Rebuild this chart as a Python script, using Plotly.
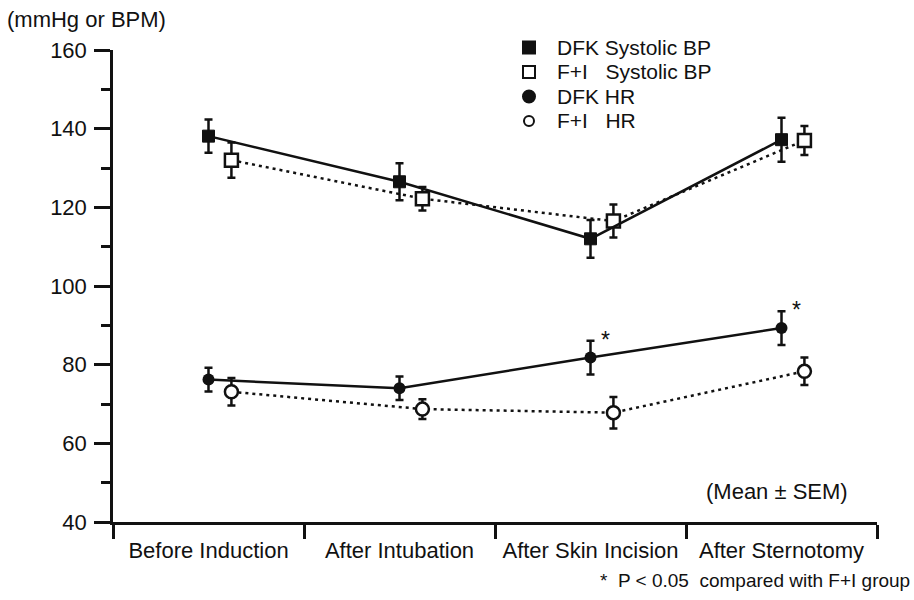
import plotly.graph_objects as go

# ---- data ----
categories = ["Before Induction", "After Intubation", "After Skin Incision", "After Sternotomy"]
dfk_sbp = [138.1, 126.5, 112.0, 137.2]
dfk_sbp_sem = [4.2, 4.7, 4.8, 5.6]
fi_sbp = [132.0, 122.2, 116.5, 137.0]
fi_sbp_sem = [4.5, 3.0, 4.2, 3.7]
dfk_hr = [76.2, 74.0, 81.8, 89.3]
dfk_hr_sem = [3.0, 3.0, 4.3, 4.3]
fi_hr = [73.1, 68.7, 67.8, 78.3]
fi_hr_sem = [3.5, 2.5, 4.0, 3.5]
sig_hr = ["", "", "*", "*"]
y_ticks = [40, 60, 80, 100, 120, 140, 160]
legend_names = ["DFK Systolic BP", "F+I\u00a0\u00a0\u00a0Systolic BP", "DFK HR", "F+I\u00a0\u00a0\u00a0HR"]

FONT = "Liberation Sans, Arial, Helvetica, sans-serif"
INK = "#111111"
OFFSET = 0.12
FS = 22

x_dfk = list(range(len(categories)))
x_fi = [i + OFFSET for i in x_dfk]

fig = go.Figure()

def err(sem):
    return dict(type="data", array=sem, visible=True, color=INK, thickness=2.5, width=4)

# BP lines
fig.add_trace(go.Scatter(x=x_fi, y=fi_sbp, mode="lines+markers", showlegend=False,
                         line=dict(color=INK, width=2.5, dash="3px,4px"),
                         marker=dict(symbol="square", size=13, color="white", line=dict(color=INK, width=2.5)),
                         error_y=err(fi_sbp_sem)))
fig.add_trace(go.Scatter(x=x_dfk, y=dfk_sbp, mode="lines+markers", showlegend=False,
                         line=dict(color=INK, width=2.5),
                         marker=dict(symbol="square", size=12, color=INK, line=dict(color=INK, width=1)),
                         error_y=err(dfk_sbp_sem)))
# HR lines
fig.add_trace(go.Scatter(x=x_fi, y=fi_hr, mode="lines+markers", showlegend=False,
                         line=dict(color=INK, width=2.5, dash="3px,4px"),
                         marker=dict(symbol="circle", size=13, color="white", line=dict(color=INK, width=2.5)),
                         error_y=err(fi_hr_sem)))
fig.add_trace(go.Scatter(x=x_dfk, y=dfk_hr, mode="lines+markers", showlegend=False,
                         line=dict(color=INK, width=2.5),
                         marker=dict(symbol="circle", size=12, color=INK),
                         error_y=err(dfk_hr_sem)))

# significance stars
for i, s in enumerate(sig_hr):
    if s:
        fig.add_annotation(x=x_dfk[i], y=dfk_hr[i] + dfk_hr_sem[i], text=s, showarrow=False,
                           xshift=15, yshift=1, font=dict(family=FONT, size=23, color=INK))

# secondary x axis just for category labels
fig.add_trace(go.Scatter(x=x_dfk, y=[None] * len(x_dfk), xaxis="x2", showlegend=False, hoverinfo="skip"))

# manual legend: symbols as pixel-sized shapes, text as annotations (paper coords)
leg_x_sym = 0.5445
leg_x_txt = 0.5785
leg_rows = [1.0053, 0.9534, 0.9015, 0.8496]
leg_kinds = [("rect", True), ("rect", False), ("circle", True), ("circle", False)]
leg_half = [6, 6, 6, 5]
for (kind, filled), yy, h in zip(leg_kinds, leg_rows, leg_half):
    fig.add_shape(type=kind, xref="paper", yref="paper", xsizemode="pixel", ysizemode="pixel",
                  xanchor=leg_x_sym, yanchor=yy, x0=-h, x1=h, y0=-h, y1=h,
                  fillcolor=INK if filled else "white", line=dict(color=INK, width=2))
for name, yy in zip(legend_names, leg_rows):
    fig.add_annotation(xref="paper", yref="paper", x=leg_x_txt, y=yy, xanchor="left", yanchor="middle",
                       text=name, showarrow=False, font=dict(family=FONT, size=21, color=INK))

fig.update_layout(
    width=914, height=600,
    margin=dict(l=113, r=37, t=50, b=78),
    paper_bgcolor="white", plot_bgcolor="white",
    font=dict(family=FONT, size=FS, color=INK),
    showlegend=False,
    xaxis=dict(range=[-0.5, 3.5], tickvals=[-0.5, 0.5, 1.5, 2.5, 3.5], ticktext=[""] * 5,
               ticks="outside", ticklen=14, tickwidth=2.5, tickcolor=INK,
               showline=True, linecolor=INK, linewidth=2.5, showgrid=False, zeroline=False),
    xaxis2=dict(range=[-0.5, 3.5], overlaying="x", side="bottom", tickvals=x_dfk, ticktext=categories,
                ticks="outside", ticklen=9, tickcolor="rgba(0,0,0,0)", showline=False, showgrid=False,
                zeroline=False, tickfont=dict(family=FONT, size=FS, color=INK)),
    yaxis=dict(range=[40, 160], tickvals=y_ticks, ticks="outside", ticklen=16, tickwidth=2.5, tickcolor=INK,
               minor=dict(dtick=10, tick0=40, ticks="outside", ticklen=9, tickwidth=2.5, tickcolor=INK),
               showline=True, linecolor=INK, linewidth=2.5, showgrid=False, zeroline=False,
               tickfont=dict(family=FONT, size=FS, color=INK), ticklabelstandoff=3),
)

fig.add_annotation(xref="paper", yref="paper", x=-0.1414, y=1.0636, xanchor="left", yanchor="middle",
                   text="(mmHg or BPM)", showarrow=False, font=dict(family=FONT, size=FS, color=INK))
fig.add_annotation(xref="paper", yref="paper", x=0.9647, y=0.0636, xanchor="right", yanchor="middle",
                   text="(Mean ± SEM)", showarrow=False, font=dict(family=FONT, size=FS, color=INK))
fig.add_annotation(xref="paper", yref="paper", x=1.0458, y=-0.123, xanchor="right", yanchor="middle",
                   text="*\u00a0 P < 0.05\u00a0 compared with F+I group", showarrow=False,
                   font=dict(family=FONT, size=19, color=INK))

fig.write_html("out.html", config={"displayModeBar": False},
               post_script="document.body.style.margin='0';")
